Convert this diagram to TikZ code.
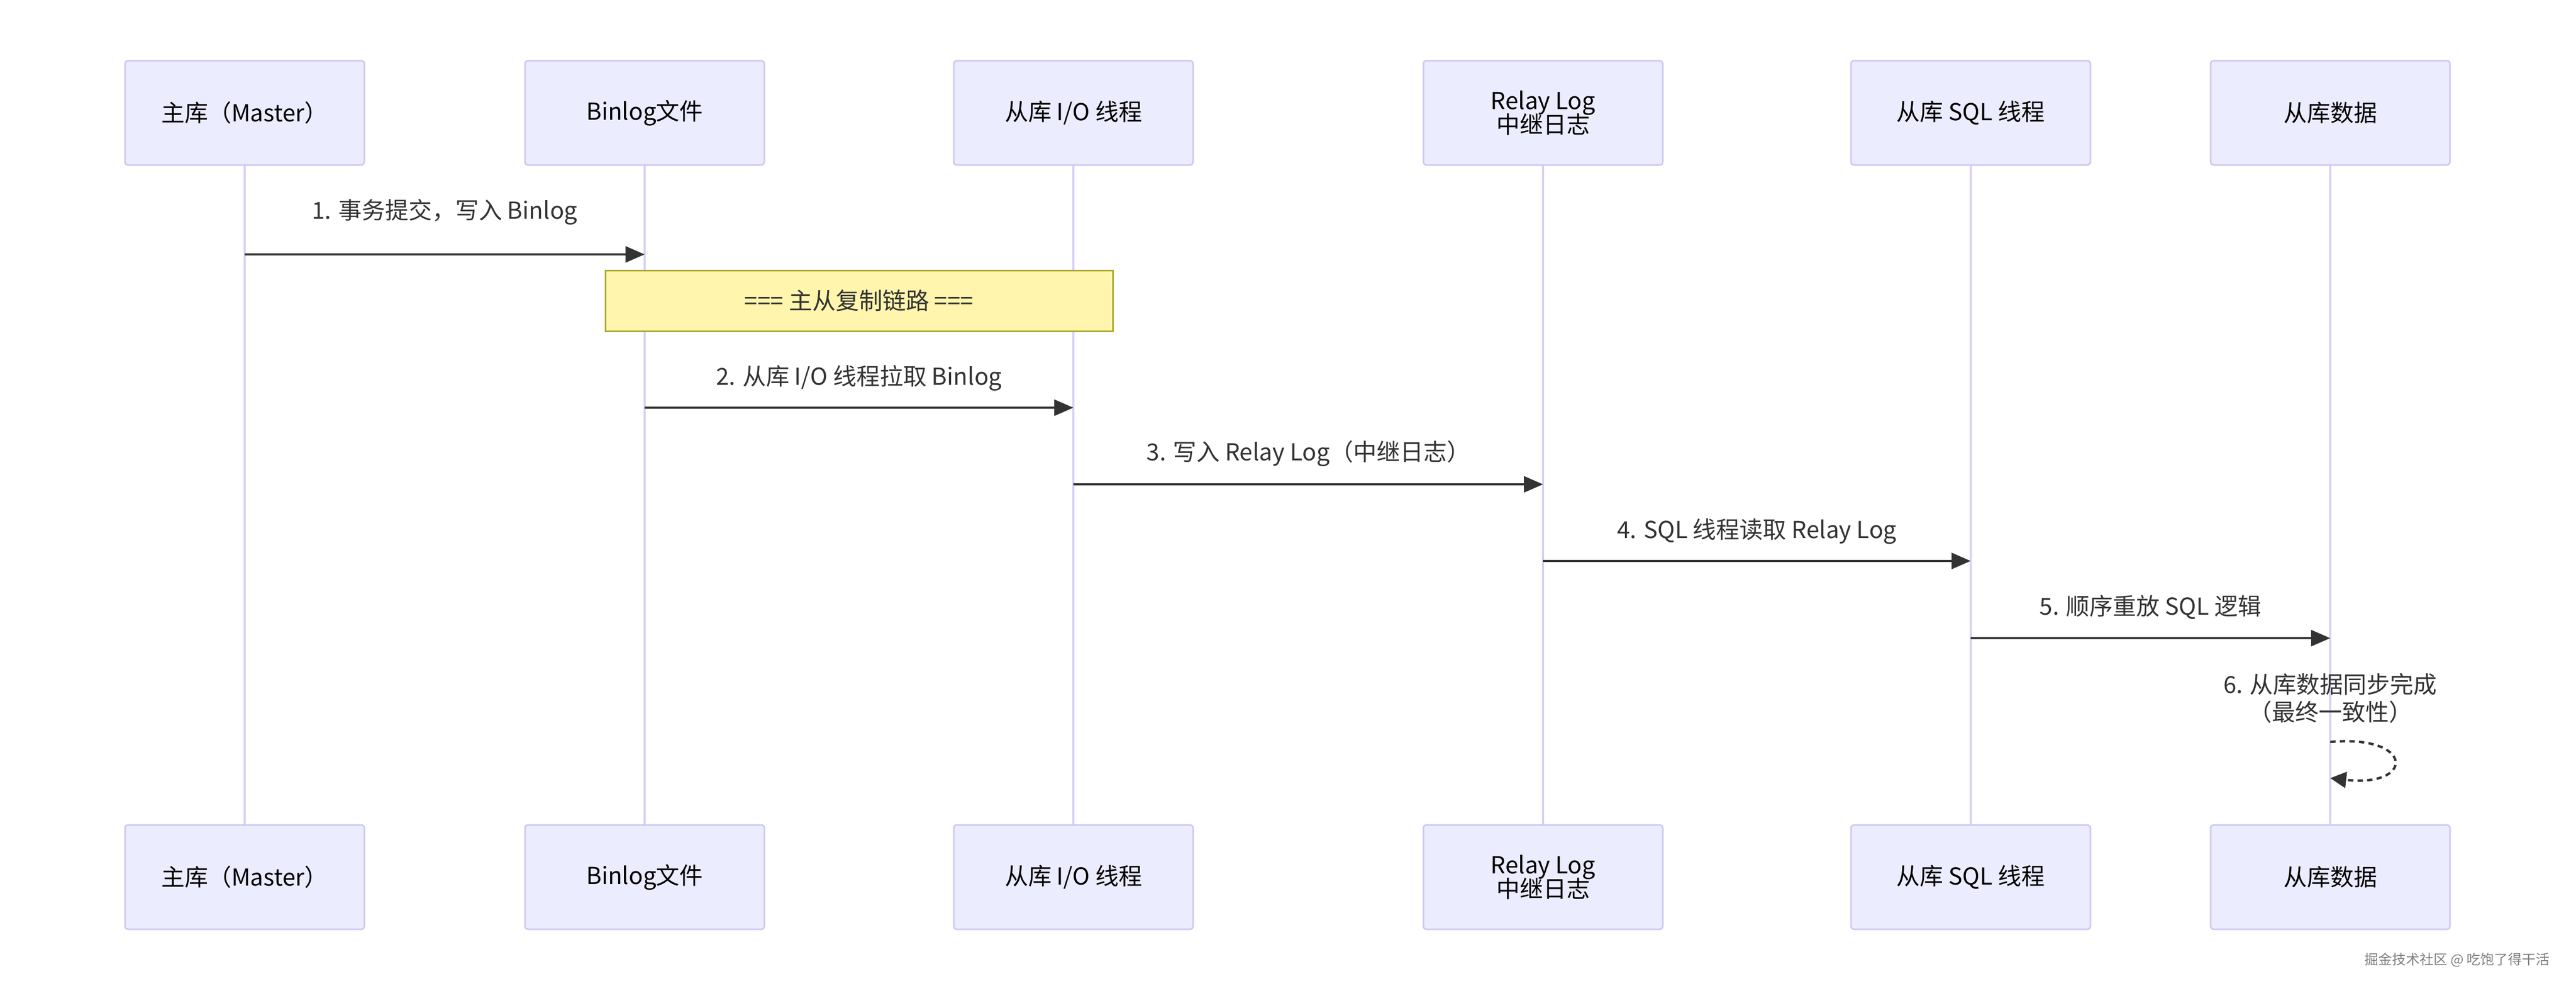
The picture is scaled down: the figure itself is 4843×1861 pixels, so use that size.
\documentclass[tikz,border=0pt]{standalone}
\usepackage{fontspec}
\setmainfont{Noto Sans CJK SC}
\usetikzlibrary{arrows.meta}
\definecolor{actfill}{HTML}{ECECFF}
\definecolor{actline}{HTML}{D0C8F2}
\definecolor{lifeline}{HTML}{D8D0F4}
\definecolor{notefill}{HTML}{FFF5AD}
\definecolor{noteline}{HTML}{AAAA33}
\definecolor{msg}{HTML}{333333}
\begin{document}
\begin{tikzpicture}[x=1pt,y=-1pt,
 actor/.style={draw=actline,fill=actfill,line width=3pt,rounded corners=6pt,minimum width=450pt,minimum height=196pt,align=center,font=\fontsize{44}{46}\selectfont,inner sep=0pt},
 life/.style={draw=lifeline,line width=4pt},
 msgline/.style={draw=msg,line width=4.5pt,-{Triangle[length=36pt,width=30pt]}},
 lbl/.style={font=\fontsize{44}{52}\selectfont,text=msg,align=center}]
\fill[white] (0,0) rectangle (4843,1861);
\foreach \n/\x/\t in {a/460/{主库（Master）},b/1212/{Binlog文件},c/2018/{从库 I/O 线程},d/2901/{Relay Log\\[-4pt]中继日志},e/3705/{从库 SQL 线程},f/4381/{从库数据}}{
  \draw[life] (\x,310) -- (\x,1551);
  \node[actor] (\n t) at (\x,212) {\t};
  \node[actor] (\n b) at (\x,1648) {\t};
}
\node[draw=noteline,fill=notefill,line width=3pt,minimum width=954pt,minimum height=114pt,inner sep=0pt,font=\fontsize{44}{52}\selectfont,text=msg] (note) at (1615,565) {=== 主从复制链路 ===};
\coordinate (a1) at (460,478); \coordinate (b1) at (1212,478);
\coordinate (b2) at (1212,766); \coordinate (c2) at (2018,766);
\coordinate (c3) at (2018,910); \coordinate (d3) at (2901,910);
\coordinate (d4) at (2901,1054); \coordinate (e4) at (3705,1054);
\coordinate (e5) at (3705,1199); \coordinate (f5) at (4381,1199);
\draw[msgline] (a1) -- (b1);
\draw[msgline] (b2) -- (c2);
\draw[msgline] (c3) -- (d3);
\draw[msgline] (d4) -- (e4);
\draw[msgline] (e5) -- (f5);
\node[lbl] at (836,398) {1. 事务提交，写入 Binlog};
\node[lbl] at (1615,710) {2. 从库 I/O 线程拉取 Binlog};
\node[lbl] at (2460,852) {3. 写入 Relay Log（中继日志）};
\node[lbl] at (3303,998) {4. SQL 线程读取 Relay Log};
\node[lbl] at (4043,1141) {5. 顺序重放 SQL 逻辑};
\node[lbl] at (4381,1312) {6. 从库数据同步完成\\（最终一致性）};
\coordinate (f6) at (4381,1394); \coordinate (f7) at (4381,1462);
\draw[draw=msg,line width=4.5pt,dash pattern=on 10pt off 8pt,-{Triangle[length=30pt,width=30pt]}] (f6) .. controls (4540,1380) and (4540,1480) .. (f7);
\node[font=\fontsize{26}{30}\selectfont,text=gray,anchor=east] at (4797,1804) {掘金技术社区 @ 吃饱了得干活};
\end{tikzpicture}
\end{document}
